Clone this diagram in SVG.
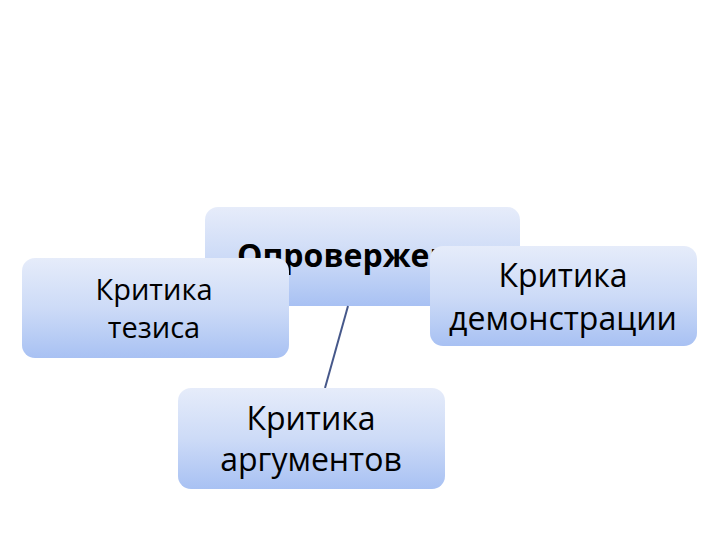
<svg xmlns="http://www.w3.org/2000/svg" width="720" height="540" viewBox="0 0 720 540">
<defs>
<linearGradient id="g" x1="0" y1="0" x2="0" y2="1">
<stop offset="0" stop-color="#e6ecfa"/>
<stop offset="0.5" stop-color="#cddbf7"/>
<stop offset="1" stop-color="#a8c1f3"/>
</linearGradient>
</defs>
<style>
.box{fill:url(#g);}
.t{font-family:"Open Sans","Liberation Sans",sans-serif;fill:#000;text-anchor:middle;}
.edge{stroke:#46588a;stroke-width:2;fill:none;}
</style>
<rect width="720" height="540" fill="#fff"/>
<g id="n-center">
<rect class="box" x="205" y="207" width="315" height="99" rx="13"/>
<text class="t" x="237" y="267" style="text-anchor:start;font-weight:bold;font-size:32px">Опровержение</text>
</g>
<g id="connectors">
<line class="edge" x1="348" y1="306" x2="325" y2="388"/>
</g>
<g id="n-thesis">
<rect class="box" x="22" y="258" width="267" height="100" rx="13"/>
<text class="t" x="154" y="300" style="font-size:29px">Критика</text>
<text class="t" x="154" y="338" style="font-size:29px">тезиса</text>
</g>
<g id="n-demo">
<rect class="box" x="430" y="246" width="267" height="100" rx="13"/>
<text class="t" x="563" y="287" style="font-size:32px">Критика</text>
<text class="t" x="563" y="330" style="font-size:32px">демонстрации</text>
</g>
<g id="n-args">
<rect class="box" x="178" y="388" width="267" height="101" rx="13"/>
<text class="t" x="311" y="430" style="font-size:32px">Критика</text>
<text class="t" x="311" y="471" style="font-size:32px">аргументов</text>
</g>
</svg>
